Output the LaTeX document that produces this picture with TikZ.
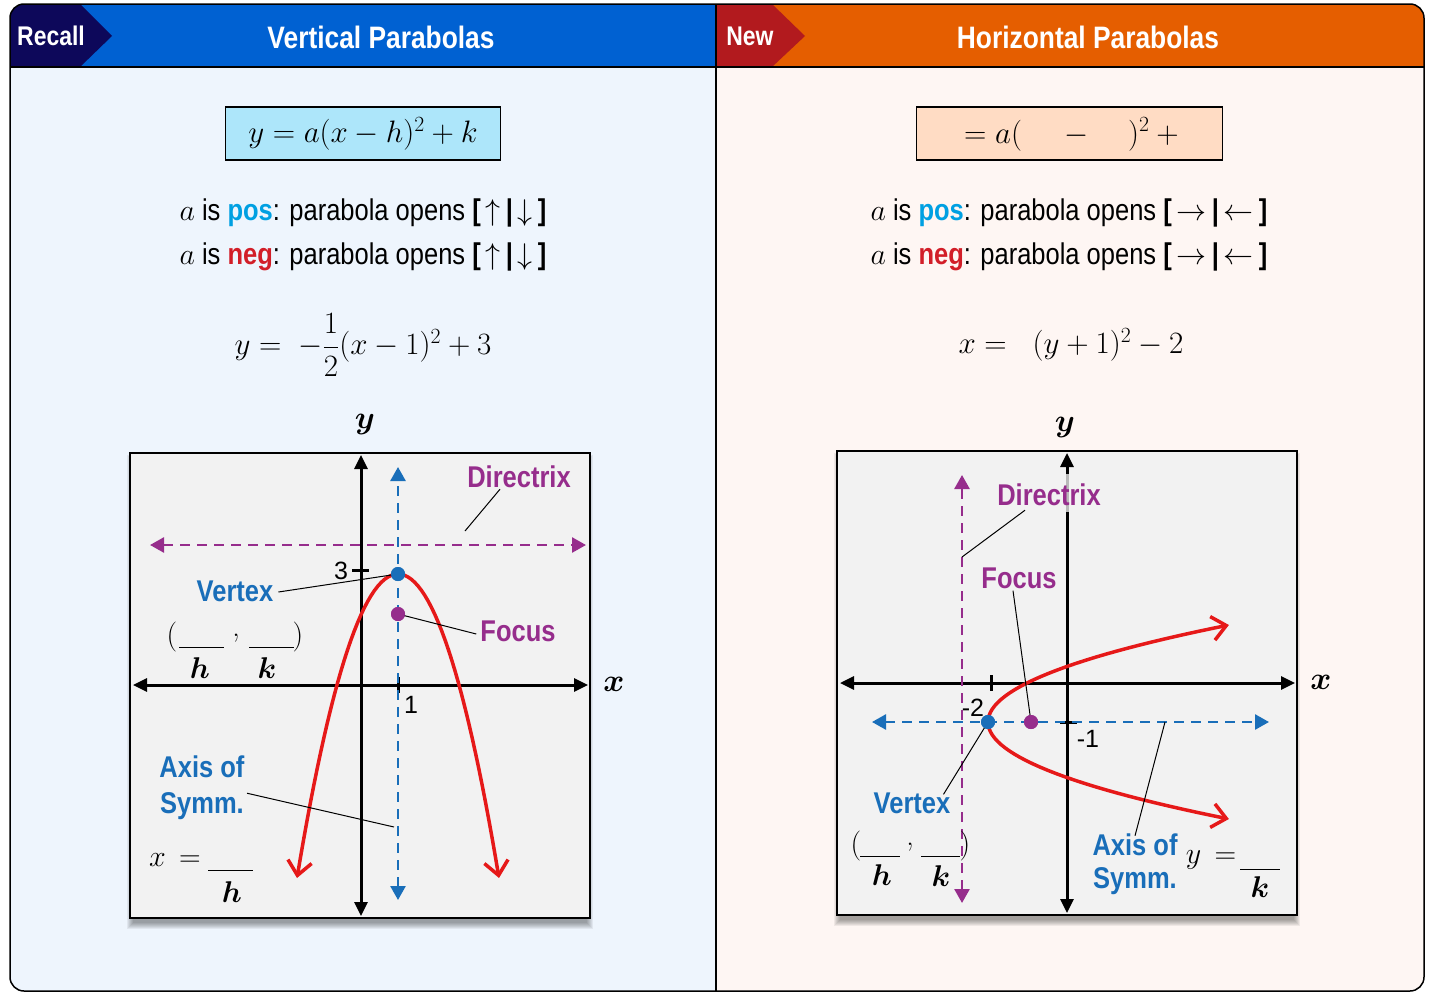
\RequirePackage{fix-cm}
\documentclass[tikz,border=0pt]{standalone}
\usepackage{amsmath}
\usepackage{fontspec}
\newfontfamily\cond[FakeStretch=0.85]{Liberation Sans}
\newfontfamily\arialf{Liberation Sans}
\usetikzlibrary{arrows.meta}
\definecolor{hdrblue}{RGB}{0,97,210}
\definecolor{hdrorange}{RGB}{229,94,0}
\definecolor{tagnavy}{RGB}{13,8,90}
\definecolor{tagred}{RGB}{178,26,30}
\definecolor{leftbg}{RGB}{238,245,253}
\definecolor{rightbg}{RGB}{254,246,243}
\definecolor{boxcyan}{RGB}{173,230,250}
\definecolor{boxpeach}{RGB}{255,220,196}
\definecolor{poscol}{RGB}{0,160,226}
\definecolor{negcol}{RGB}{210,30,40}
\definecolor{graphbg}{RGB}{242,242,242}
\definecolor{lblblue}{RGB}{25,110,185}
\definecolor{purp}{RGB}{150,45,140}
\definecolor{curvered}{RGB}{230,25,25}
\tikzset{
  hdr/.style={text=white, font=\cond\bfseries\fontsize{27}{32}\selectfont, inner sep=0pt},
  hdrT/.style={text=white, font=\cond\bfseries\fontsize{31}{36}\selectfont, inner sep=0pt},
  fbox/.style={draw=black, line width=1.3pt, inner sep=0pt, font=\fontsize{31}{36}\selectfont},
  bodytxt/.style={font=\cond\fontsize{30}{34}\selectfont, inner sep=0pt},
  mathtxt/.style={font=\fontsize{31}{36}\selectfont, inner sep=0pt},
  lbl/.style={font=\cond\bfseries\fontsize{30}{34}\selectfont, inner sep=0pt},
  bluelbl/.style={lbl, text=lblblue},
  purplbl/.style={lbl, text=purp},
  ticklbl/.style={font=\arialf\fontsize{25}{30}\selectfont, inner sep=0pt},
  axlbl/.style={font=\fontsize{32}{36}\selectfont, inner sep=0pt},
  hk/.style={font=\fontsize{30}{36}\selectfont, inner sep=0pt},
  leader/.style={black, line width=1pt},
  axisline/.style={black, line width=3pt, {Triangle[length=14pt,width=13pt]}-{Triangle[length=14pt,width=13pt]}},
  ticks/.style={black, line width=3pt},
  aosline/.style={lblblue, line width=2.6pt, dash pattern=on 10pt off 7pt, {Triangle[length=14pt,width=15pt]}-{Triangle[length=14pt,width=15pt]}},
  dirline/.style={purp, line width=2.6pt, dash pattern=on 10pt off 7pt, {Triangle[length=14pt,width=15pt]}-{Triangle[length=14pt,width=15pt]}},
  curve/.style={curvered, line width=3.5pt, {Straight Barb[length=14pt,width=24pt]}-{Straight Barb[length=14pt,width=24pt]}},
  dotnode/.style={circle, minimum size=14pt, inner sep=0pt},
  blank/.style={black, line width=1pt},
  gbox/.style={fill=graphbg, draw=black, line width=2.6pt},
}
\begin{document}
\begin{tikzpicture}[x=1pt,y=-1pt]
\useasboundingbox (0,0) rectangle (1430,993);
% ---------- frame ----------
\begin{scope}
\clip[rounded corners=14pt] (10,4) rectangle (1424,991);
\fill[leftbg] (10,4) rectangle (716,991);
\fill[rightbg] (716,4) rectangle (1424,991);
\fill[hdrblue] (10,4) rectangle (716,67);
\fill[hdrorange] (716,4) rectangle (1424,67);
\fill[tagnavy] (10,4) -- (80,4) -- (112,36) -- (80,67) -- (10,67) -- cycle;
\fill[tagred] (716,4) -- (772,4) -- (805,36) -- (772,67) -- (716,67) -- cycle;
\end{scope}
\draw[line width=1.8pt] (10,67) -- (1424,67);
\draw[line width=1.5pt] (716,4) -- (716,991);
\draw[line width=1.5pt, rounded corners=14pt] (10,4) rectangle (1424,991);
% ---------- headers ----------
\node[hdr] (rec) at (51,36) {Recall};
\node[hdrT] (vt) at (381,37) {Vertical Parabolas};
\node[hdr] (new) at (750,36) {New};
\node[hdrT] (ht) at (1088,37) {Horizontal Parabolas};
% ---------- formula boxes ----------
\node[fbox, fill=boxcyan, minimum width=275pt, minimum height=53pt] (f1) at (363,133.5) {$y = a(x-h)^2+k$};
\node[fbox, fill=boxpeach, minimum width=306pt, minimum height=53pt] (f2) at (1069.5,133.5) {};
\node[mathtxt, anchor=base west] (f2t) at (964,143) {$= a(\hspace{42pt}-\hspace{40pt})^2+{}$};
% ---------- rules ----------
\node[bodytxt] (p1) at (363,213) {$a$ is {\bfseries\color{poscol}pos}: parabola opens {\bfseries[}\,$\uparrow$\,{\bfseries|}\,$\downarrow$\,{\bfseries]}};
\node[bodytxt] (n1) at (363,257) {$a$ is {\bfseries\color{negcol}neg}: parabola opens {\bfseries[}\,$\uparrow$\,{\bfseries|}\,$\downarrow$\,{\bfseries]}};
\node[bodytxt] (p2) at (1069,213) {$a$ is {\bfseries\color{poscol}pos}: parabola opens {\bfseries[}\,$\rightarrow$\,{\bfseries|}\,$\leftarrow$\,{\bfseries]}};
\node[bodytxt] (n2) at (1069,257) {$a$ is {\bfseries\color{negcol}neg}: parabola opens {\bfseries[}\,$\rightarrow$\,{\bfseries|}\,$\leftarrow$\,{\bfseries]}};
% ---------- worked equations ----------
\node[mathtxt] (e1) at (363,345) {$y =\; -\dfrac{1}{2}(x-1)^2+3$};
\node[mathtxt] (e2) at (1071,345) {$x =\;\; (y+1)^2-2$};
% ================= LEFT GRAPH =================
\foreach \i in {1,...,7} \fill[black, opacity=0.06] ({134-\i},{462-\i}) rectangle ({586+\i},{922+\i});
\draw[gbox] (130,453) rectangle (590,918);
\node[axlbl] (ly) at (365,424) {$\boldsymbol{y}$};
\node[axlbl] (lx) at (614,684) {$\boldsymbol{x}$};
\coordinate (lyt) at (361,455);
\coordinate (lyb) at (361,916);
\coordinate (lxl) at (133,685);
\coordinate (lxr) at (588,685);
\draw[axisline] (lyb) -- (lyt);
\draw[axisline] (lxl) -- (lxr);
\draw[ticks] (398,677) -- (398,693);
\draw[ticks] (352,570) -- (369,570);
\node[ticklbl] (t1) at (411,705) {1};
\node[ticklbl] (t3) at (341,571) {3};
% directrix and axis of symmetry
\coordinate (ldl) at (150,545);
\coordinate (ldr) at (586,545);
\draw[dirline] (ldl) -- (ldr);
\coordinate (lat) at (398,467);
\coordinate (lab) at (398,900);
\draw[aosline] (lab) -- (lat);
% parabola
\draw[curve] plot[domain=-101:101, samples=61] ({398+\x},{574+0.0298*\x*\x});
% labels
\node[purplbl] (ldir) at (519,477) {Directrix};
\coordinate (ldirend) at (465,531);
\draw[leader] ([xshift=-19pt,yshift=-1pt]ldir.south) -- (ldirend);
\node[dotnode, fill=lblblue] (lv) at (398,574) {};
\node[dotnode, fill=purp] (lf) at (398,614) {};
\node[bluelbl] (lvx) at (235,591) {Vertex};
\draw[leader] ([xshift=5pt,yshift=-1pt]lvx.east) -- (lv.center);
\node[dotnode, fill=lblblue] at (398,574) {};
\node[purplbl] (lfo) at (518,631) {Focus};
\draw[leader] ([xshift=-4pt,yshift=-3pt]lfo.west) -- (lf.center);
\node[dotnode, fill=purp] at (398,614) {};
\node[bluelbl] (lax) at (202,767) {Axis of};
\node[bluelbl] (lsy) at (202,806) {Symm.};
\coordinate (laxend) at (394,827);
\draw[leader] ([xshift=3pt,yshift=-1pt]lsy.north east) -- (laxend);
% vertex blanks
\node[hk] (lpo) at (172,637) {(};
\draw[blank] (179,647) -- (224,647);
\node[hk] (lcm) at (236,638) {,};
\draw[blank] (249,647) -- (294,647);
\node[hk] (lpc) at (298,637) {)};
\node[hk] (lh) at (200,668) {$\boldsymbol{h}$};
\node[hk] (lk) at (267,668) {$\boldsymbol{k}$};
% x = h
\node[hk] (lxeq) at (175,860) {$x\,=$};
\draw[blank] (208,870) -- (253,870);
\node[hk] (lh2) at (232,892) {$\boldsymbol{h}$};
% ================= RIGHT GRAPH =================
\foreach \i in {1,...,7} \fill[black, opacity=0.06] ({841-\i},{460-\i}) rectangle ({1293+\i},{919+\i});
\draw[gbox] (837,451) rectangle (1297,915);
\node[axlbl] (ry) at (1065,427) {$\boldsymbol{y}$};
\node[axlbl] (rx) at (1321,682) {$\boldsymbol{x}$};
\coordinate (ryt) at (1067,453);
\coordinate (ryb) at (1067,913);
\coordinate (rxl) at (840,683);
\coordinate (rxr) at (1295,683);
\draw[axisline] (ryb) -- (ryt);
\draw[axisline] (rxl) -- (rxr);
\draw[gray!55, line width=3pt] (1067,474) -- (1067,512);
\draw[ticks] (991,675) -- (991,691);
\draw[ticks] (1060,722) -- (1077,722);
\node[ticklbl] (tm2) at (973,708) {-2};
\node[ticklbl] (tm1) at (1088,739) {-1};
% axis of symmetry and directrix
\coordinate (ral) at (872,722);
\coordinate (rar) at (1269,722);
\draw[aosline] (ral) -- (rar);
\coordinate (rdt) at (962,475);
\coordinate (rdb) at (962,903);
\draw[dirline] (rdb) -- (rdt);
% parabola
\draw[curve] plot[domain=-97:97, samples=61] ({988+0.0256*\x*\x},{722+\x});
% labels
\node[purplbl] (rdir) at (1049,495) {Directrix};
\coordinate (rdirend) at (962,557);
\draw[leader] ([xshift=-24pt,yshift=-4pt]rdir.south) -- (rdirend);
\node[dotnode, fill=lblblue] (rv) at (988,722) {};
\node[dotnode, fill=purp] (rf) at (1031,722) {};
\node[purplbl] (rfo) at (1019,578) {Focus};
\draw[leader] ([xshift=-6pt,yshift=-2pt]rfo.south) -- (rf.center);
\node[dotnode, fill=purp] at (1031,722) {};
\node[bluelbl] (rvx) at (912,803) {Vertex};
\draw[leader] ([xshift=-7pt,yshift=-2pt]rvx.north east) -- (rv.center);
\node[dotnode, fill=lblblue] at (988,722) {};
\node[bluelbl] (rax) at (1135,845) {Axis of};
\node[bluelbl] (rsy) at (1135,881) {Symm.};
\coordinate (raxend) at (1165,722);
\draw[leader] ([yshift=-2pt]rax.north) -- (raxend);
% vertex blanks
\node[hk] (rpo) at (856,846) {(};
\draw[blank] (860,856) -- (900,856);
\node[hk] (rcm) at (910,847) {,};
\draw[blank] (921,856) -- (960,856);
\node[hk] (rpc) at (965,846) {)};
\node[hk] (rh) at (882,875) {$\boldsymbol{h}$};
\node[hk] (rk) at (941,876) {$\boldsymbol{k}$};
% y = k
\node[hk] (ryeq) at (1211,860) {$y\,=$};
\draw[blank] (1240,869) -- (1280,869);
\node[hk] (rk2) at (1260,887) {$\boldsymbol{k}$};
\end{tikzpicture}
\end{document}
